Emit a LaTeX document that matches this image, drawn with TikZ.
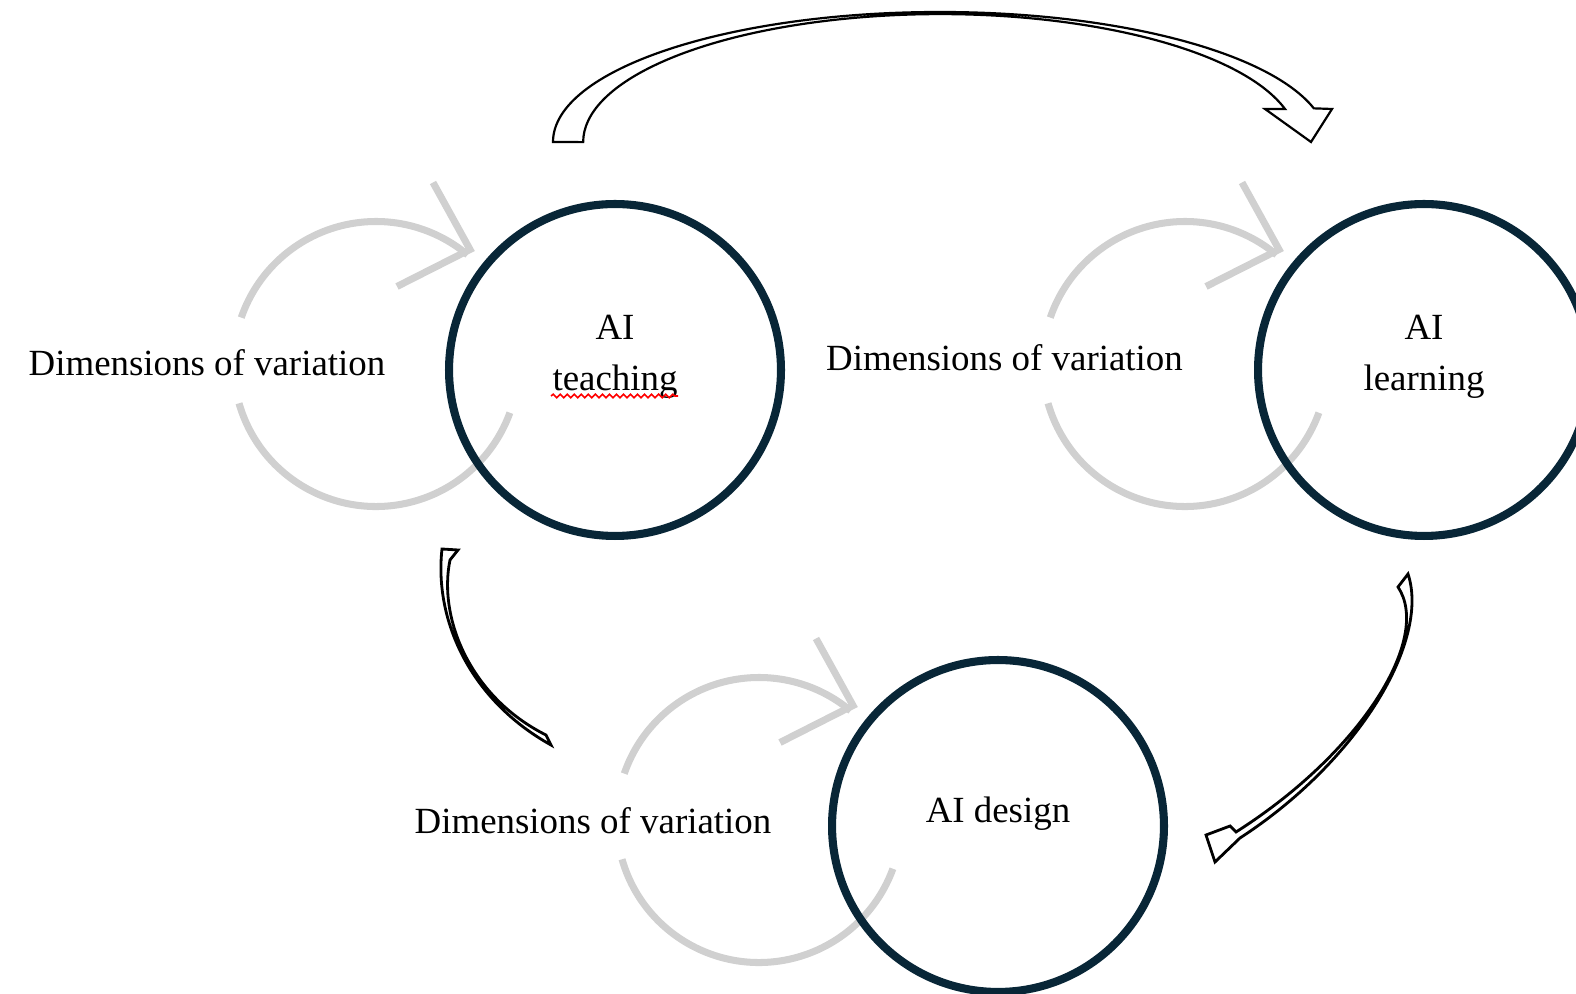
\documentclass[tikz,border=0pt]{standalone}
\usepackage{fontspec}
\setmainfont{Liberation Serif}
\usetikzlibrary{positioning}
\usetikzlibrary{decorations.pathmorphing}
\definecolor{hubblue}{RGB}{8,38,55}
\definecolor{loopgrey}{RGB}{208,208,208}
\tikzset{
  hub/.style={circle,draw=hubblue,line width=4.6pt,minimum size=6.64cm,inner sep=0pt},
  hubtext/.style={align=center,font=\fontsize{21}{29}\selectfont,inner sep=0pt},
  dimtext/.style={font=\fontsize{21}{26.5}\selectfont,inner sep=0pt},
  loopline/.style={draw=loopgrey,line width=4pt,line join=miter},
  blockarrow/.style={draw=black,fill=white,line width=1.25pt,line join=miter}}

\begin{document}
\begin{tikzpicture}[x=0.02cm,y=0.02cm]
  \useasboundingbox (0,0) rectangle (1576,994);
  % the three circles
  \coordinate (teachc) at (615,624);
  \coordinate (learnc) at (1424,624);
  \coordinate (designc) at (998,168);
  % grey loops, drawn first so the circles sit on top
  \foreach \hubname in {teachc,learnc,designc}{
    \begin{scope}[shift={(\hubname)},shift={(-239,6)}]
      \draw[loopline] (161:142.5) arc[start angle=161,end angle=50,radius=142.5];
      \draw[loopline] (196:142.5) arc[start angle=196,end angle=340,radius=142.5];
      \draw[loopline] (57,181.5) -- (94,114.5) -- (21,77.5);
    \end{scope}
  }
  \node[hub] (teach) at (teachc) {};
  \node[hub] (learn) at (learnc) {};
  \node[hub] (design) at (designc) {};
  \node[hubtext] (teachlbl) at (615,637.5) {AI\\teaching};
  \node[hubtext] (learnlbl) at (1424,637.5) {AI\\learning};
  \node[hubtext] (designlbl) at (998,180) {AI design};
  \draw[red,line width=0.9pt,decorate,decoration={snake,amplitude=1pt,segment length=4pt}]
    (551,598) -- (678,598);
  % dimensions of variation
  \node[dimtext] (dimteach) at (207,631.5) {Dimensions of variation};
  \node[dimtext] (dimlearn) at (1004.5,636) {Dimensions of variation};
  \node[dimtext] (dimdesign) at (593,173) {Dimensions of variation};
  % block arrows
  \draw[blockarrow] (553,852) arc[start angle=180,end angle=15,x radius=387,y radius=130]
    -- (1332,885) -- (1311,852) -- (1265,885)
    -- ++(20,0) arc[start angle=15,end angle=180,x radius=357,y radius=128] -- cycle;
  \draw[blockarrow,line width=1.6pt] (1408,420) .. controls (1430,354) and (1360,234) .. (1240,156)
    -- (1215,132) -- (1206,159) -- (1230,168) -- (1236,162)
    .. controls (1362,242) and (1432,356) .. (1398,407) -- cycle;
  \draw[blockarrow,line width=1.6pt] (442,445) .. controls (434,374) and (470,294) .. (551,249)
    -- (546,259) .. controls (470,297) and (438,376) .. (450,434)
    -- (458,444) -- cycle;
\end{tikzpicture}
\end{document}
